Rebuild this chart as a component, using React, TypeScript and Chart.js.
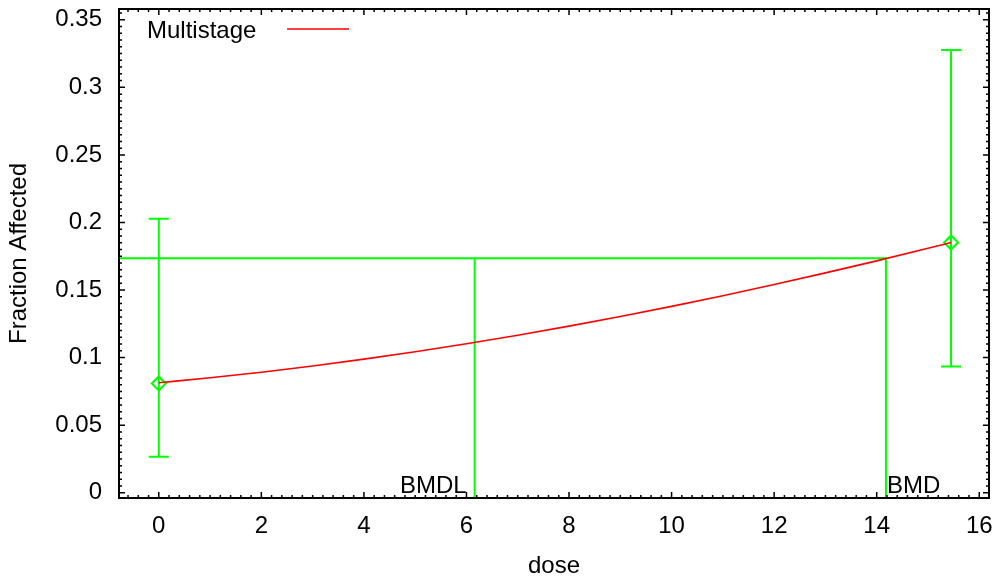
import React, { useEffect, useRef } from "react";
import { Chart, registerables } from "chart.js";

Chart.register(...registerables);

// ---- data ----
const curveLabel = "Multistage";
const curveDose = [0, 1, 2, 3, 4, 5, 6, 7, 8, 9, 10, 11, 12, 13, 14, 15, 15.45];
const curveFraction = [
  0.0814, 0.0851, 0.0892, 0.0938, 0.0989, 0.1043, 0.1102, 0.1166, 0.1233,
  0.1304, 0.1379, 0.1458, 0.1541, 0.1627, 0.1716, 0.1809, 0.1852,
];
const obsDose = [0, 15.45];
const obsFraction = [0.0809, 0.1852];
const obsLower = [0.0266, 0.0934];
const obsUpper = [0.2028, 0.3277];
const bmrLevel = 0.1736;
const bmdlDose = 6.16;
const bmdDose = 14.18;
const xTickStep = 2;
const yTickStep = 0.05;
const xRange = [-0.776, 16.19];
const yRange = [-0.0039, 0.358];
const xTitle = "dose";
const yTitle = "Fraction Affected";

const FONT = "'Liberation Sans', Arial, sans-serif";
const GREEN = "#00ff00";
const RED = "#ff0000";

const decorPlugin = {
  id: "decor",
  beforeDatasetsDraw(chart: any) {
    const { ctx, scales } = chart;
    const x = scales.x;
    const y = scales.y;
    ctx.save();
    ctx.strokeStyle = GREEN;
    ctx.lineWidth = 2;
    for (let i = 0; i < obsDose.length; i++) {
      const px = x.getPixelForValue(obsDose[i]);
      const top = y.getPixelForValue(obsUpper[i]);
      const bot = y.getPixelForValue(obsLower[i]);
      ctx.beginPath();
      ctx.moveTo(px, top);
      ctx.lineTo(px, bot);
      ctx.moveTo(px - 10, top);
      ctx.lineTo(px + 10, top);
      ctx.moveTo(px - 10, bot);
      ctx.lineTo(px + 10, bot);
      ctx.stroke();
    }
    ctx.restore();
  },
  afterDraw(chart: any) {
    const { ctx, chartArea: a, scales } = chart;
    const x = scales.x;
    const y = scales.y;
    ctx.save();
    // BMD labels
    ctx.fillStyle = "#000";
    ctx.font = `24px ${FONT}`;
    ctx.textBaseline = "alphabetic";
    const base = y.getPixelForValue(0);
    ctx.textAlign = "right";
    ctx.fillText("BMDL", x.getPixelForValue(bmdlDose) - 8, base);
    ctx.textAlign = "left";
    ctx.fillText("BMD", x.getPixelForValue(bmdDose) + 1, base);

    // legend
    ctx.fillText(curveLabel, a.left + 28, a.top + 29);
    ctx.strokeStyle = RED;
    ctx.lineWidth = 1.6;
    ctx.beginPath();
    ctx.moveTo(a.left + 168, a.top + 20);
    ctx.lineTo(a.left + 230, a.top + 20);
    ctx.stroke();

    // ticks (inside, all four sides)
    ctx.strokeStyle = "#000";
    ctx.lineWidth = 1.5;
    ctx.beginPath();
    const xs = xTickStep / 10;
    for (let i = Math.ceil(xRange[0] / xs); i * xs < xRange[1] - 0.02; i++) {
      const px = x.getPixelForValue(i * xs);
      const len = i % 10 === 0 ? 6 : 3;
      ctx.moveTo(px, a.bottom);
      ctx.lineTo(px, a.bottom - len);
      ctx.moveTo(px, a.top);
      ctx.lineTo(px, a.top + len);
    }
    const ys = yTickStep / 10;
    for (let i = 0; i * ys < yRange[1] - 0.001; i++) {
      const py = y.getPixelForValue(i * ys);
      const len = i % 10 === 0 ? 6 : 3;
      ctx.moveTo(a.left, py);
      ctx.lineTo(a.left + len, py);
      ctx.moveTo(a.right, py);
      ctx.lineTo(a.right - len, py);
    }
    ctx.stroke();

    // frame
    ctx.lineWidth = 2;
    ctx.strokeRect(a.left, a.top, a.right - a.left, a.bottom - a.top);
    ctx.restore();
  },
};

function fmt(v: number) {
  return String(Number(v.toFixed(3)));
}

export default function App() {
  const ref = useRef<HTMLCanvasElement | null>(null);
  useEffect(() => {
    if (!ref.current) return;
    const chart = new Chart(ref.current, {
      type: "scatter",
      data: {
        datasets: [
          {
            type: "line",
            label: curveLabel,
            data: curveDose.map((d, i) => ({ x: d, y: curveFraction[i] })),
            borderColor: RED,
            borderWidth: 1.6,
            pointRadius: 0,
            cubicInterpolationMode: "monotone",
            fill: false,
            order: 0,
          },
          {
            label: "Observed",
            data: obsDose.map((d, i) => ({ x: d, y: obsFraction[i] })),
            pointStyle: "rectRot",
            pointRadius: 7,
            borderColor: GREEN,
            borderWidth: 2,
            backgroundColor: "rgba(0,0,0,0)",
            showLine: false,
            order: 1,
          },
          {
            type: "line",
            label: "BMD",
            data: [
              { x: xRange[0], y: bmrLevel },
              { x: bmdDose, y: bmrLevel },
              { x: bmdDose, y: yRange[0] },
            ],
            borderColor: GREEN,
            borderWidth: 2,
            pointRadius: 0,
            fill: false,
            order: 2,
          },
          {
            type: "line",
            label: "BMDL",
            data: [
              { x: bmdlDose, y: bmrLevel },
              { x: bmdlDose, y: yRange[0] },
            ],
            borderColor: GREEN,
            borderWidth: 2,
            pointRadius: 0,
            fill: false,
            order: 2,
          },
        ],
      },
      options: {
        responsive: false,
        animation: false,
        events: [],
        layout: { padding: { top: 7, right: 5, left: 0, bottom: 0 } },
        plugins: {
          legend: { display: false },
          tooltip: { enabled: false },
        },
        scales: {
          x: {
            type: "linear",
            min: xRange[0],
            max: xRange[1],
            grid: { display: false, drawTicks: false },
            border: { display: false },
            ticks: {
              stepSize: xTickStep,
              includeBounds: false,
              autoSkip: false,
              maxRotation: 0,
              padding: 14,
              color: "#000",
              font: { family: FONT, size: 24 },
              callback: (v: any) => fmt(Number(v)),
            },
            title: {
              display: true,
              text: xTitle,
              color: "#000",
              font: { family: FONT, size: 24 },
              padding: { top: 0, bottom: 2 },
            },
            afterFit: (s: any) => {
              s.height = 85;
              s.paddingLeft = 0;
              s.paddingRight = 0;
              s.paddingTop = 0;
              s.paddingBottom = 0;
            },
          },
          y: {
            type: "linear",
            min: yRange[0],
            max: yRange[1],
            grid: { display: false, drawTicks: false },
            border: { display: false },
            ticks: {
              stepSize: yTickStep,
              includeBounds: false,
              autoSkip: false,
              padding: 17,
              color: "#000",
              font: { family: FONT, size: 24 },
              callback: (v: any) => fmt(Number(v)),
            },
            title: {
              display: true,
              text: yTitle,
              color: "#000",
              font: { family: FONT, size: 24 },
              padding: { top: 5, bottom: 0 },
            },
            afterFit: (s: any) => {
              s.width = 119;
              s.paddingLeft = 0;
              s.paddingRight = 0;
              s.paddingTop = 0;
              s.paddingBottom = 0;
            },
          },
        },
      },
      plugins: [decorPlugin],
    });
    return () => chart.destroy();
  }, []);
  return (
    <div style={{ position: "absolute", left: 0, top: 0, width: 998, height: 583, background: "#fff" }}>
      <canvas ref={ref} width={998} height={583} style={{ display: "block" }} />
    </div>
  );
}
